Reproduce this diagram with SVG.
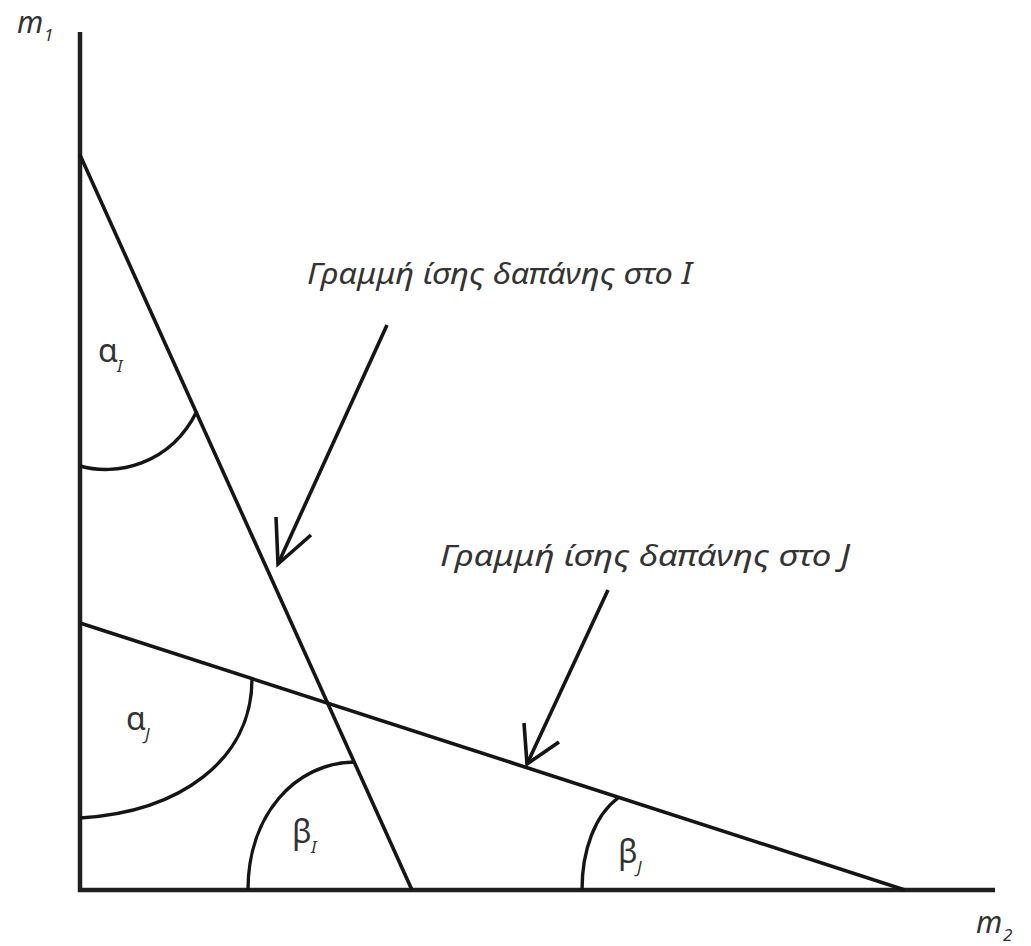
<svg xmlns="http://www.w3.org/2000/svg" width="1031" height="946" viewBox="0 0 1031 946">
<style>
.ax{stroke:#1e1e1e;stroke-width:4.5;fill:none}
.ln{stroke:#151515;stroke-width:3.6;fill:none}
.arc{stroke:#151515;stroke-width:3.4;fill:none}
.lbl{font-family:"Noto Sans","Open Sans",sans-serif;font-style:italic;font-size:30px;fill:#333}
.gk{font-family:"Noto Sans","Open Sans",sans-serif;font-size:32px;fill:#333}
.sub{font-family:"Noto Sans","Open Sans",sans-serif;font-style:italic;font-size:17px;fill:#333}
.ml{font-family:"Noto Sans","Open Sans",sans-serif;font-style:italic;font-size:30px;fill:#333}
</style>
<rect width="1031" height="946" fill="#fff"/>
<g id="axes">
<line class="ax" x1="80" y1="32" x2="80" y2="892"/>
<line class="ax" x1="78" y1="890" x2="995" y2="890"/>
<text class="ml" x="17" y="33">m</text><text class="sub" x="44" y="41">1</text>
<text class="ml" x="976" y="933">m</text><text class="sub" x="1003" y="941">2</text>
</g>
<g id="lineI"><line class="ln" x1="80" y1="155" x2="412" y2="890"/></g>
<g id="lineJ"><line class="ln" x1="80" y1="623" x2="905" y2="890"/></g>
<g id="angles">
<path class="arc" d="M80,466 C115,476 170,466 197,411"/>
<path class="arc" d="M80,818 C180,812 252,760 252,679"/>
<path class="arc" d="M248,890 C248,815 295,763 354,762"/>
<path class="arc" d="M582,890 C582,850 595,815 618,798"/>
<text class="gk" x="98" y="362">α</text><text class="sub" x="117" y="372">I</text>
<text class="gk" x="126" y="730">α</text><text class="sub" x="145" y="740">J</text>
<text class="gk" x="292" y="843">β</text><text class="sub" x="311" y="853">I</text>
<text class="gk" x="618" y="863">β</text><text class="sub" x="637" y="873">J</text>
</g>
<g id="labelI"><text class="lbl" x="307" y="284" textLength="385" lengthAdjust="spacingAndGlyphs">Γραμμή ίσης δαπάνης στο I</text></g>
<g id="labelJ"><text class="lbl" x="440" y="566" textLength="410" lengthAdjust="spacingAndGlyphs">Γραμμή ίσης δαπάνης στο J</text></g>
<g id="connectors">
<path class="ln" d="M387,325 L278,564"/>
<path class="ln" d="M276,517 L278,564 L311,535"/>
<path class="ln" d="M608,590 L527,764"/>
<path class="ln" d="M524,723 L527,764 L559,742"/>
</g>
</svg>
